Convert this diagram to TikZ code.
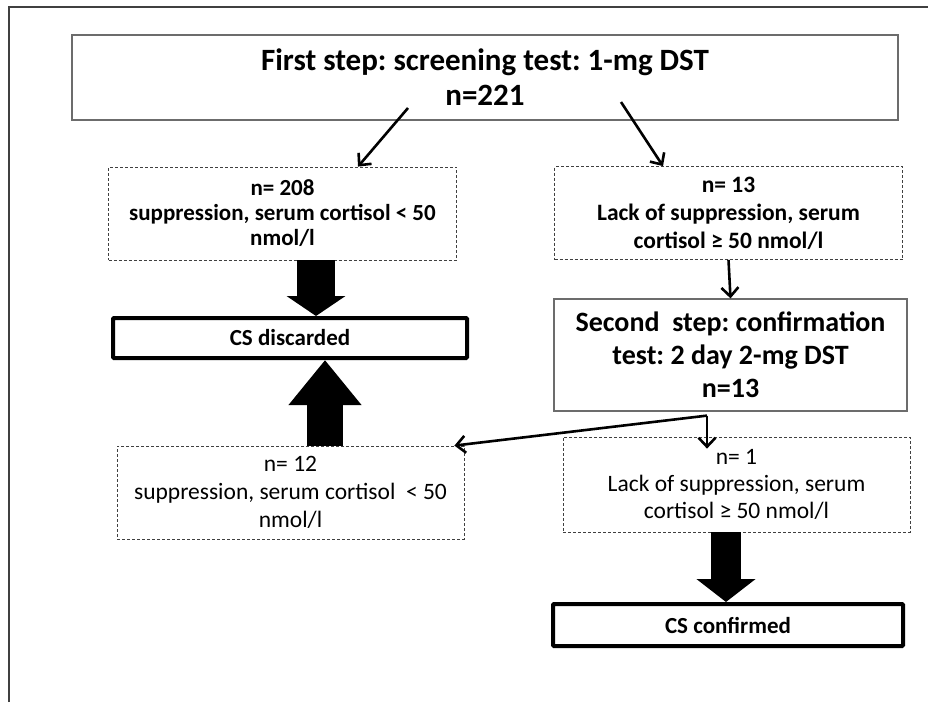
\documentclass[tikz,border=0pt]{standalone}
\usepackage{fontspec}
\setmainfont{Carlito}
\usetikzlibrary{arrows.meta,calc}
\frenchspacing

\begin{document}
\begin{tikzpicture}[x=1pt,y=-1pt,
  stepbox/.style={draw=gray!85!black,line width=1.2pt,align=center,inner sep=0pt},
  resbox/.style={draw=black!75,dash pattern=on 3pt off 2pt,line width=0.8pt,align=center,inner sep=0pt,minimum width=348pt,minimum height=93pt},
  endbox/.style={draw=black,line width=4pt,rounded corners=1pt,align=center,inner sep=0pt,minimum width=350pt,minimum height=40pt,font=\bfseries\fontsize{23}{26}\selectfont},
  linkarrow/.style={line width=2.6pt,-{Straight Barb[length=9pt,width=17pt]}},
  fatarrow/.style={draw=black}]
\useasboundingbox (0,0) rectangle (928,702);
\draw[black!75,line width=2pt] (9,702) -- (9,7) -- (928,7);

% first step
\node (first) [stepbox,minimum width=826pt,minimum height=85pt,font=\bfseries\fontsize{31}{35}\selectfont] at (485,77.5) {First step: screening test: 1-mg DST\\n=221};
\node (n208) [resbox,font=\bfseries\fontsize{23}{25}\selectfont] at (282.5,213.5) {n= 208\\suppression, serum cortisol < 50\\nmol/l};
\node (n13) [resbox,font=\bfseries\fontsize{23.5}{28}\selectfont] at (728.5,213) {n= 13\\Lack of suppression, serum\\cortisol ≥ 50 nmol/l};
\coordinate (t1) at (408,108);
\coordinate (t2) at (621,102);
\draw[linkarrow] (t1)--([xshift=75.5pt]n208.north);
\draw[linkarrow] (t2)--([xshift=-65.5pt]n13.north);

% discarded / second step
\node (discard) [endbox,minimum width=354pt] at (290,338) {CS discarded};
\node (second) [stepbox,minimum width=353pt,minimum height=112pt,font=\bfseries\fontsize{28}{33}\selectfont] at (730.5,355) {Second\ \ step: confirmation\\test: 2 day 2-mg DST\\n=13};
\coordinate (colA) at (316,0);
\draw[fatarrow,line width=38pt,-{Triangle[length=20pt,width=58pt]}] (colA |- n208.south)--(colA |- discard.north);
\draw[linkarrow] (n13.south)--(second.north);

% second step results
\node (n12) [resbox,minimum width=347pt,font=\fontsize{23.5}{28}\selectfont] at (290.5,492.5) {n= 12\\suppression, serum cortisol\ \ < 50\\nmol/l};
\node (n1) [resbox,minimum width=347pt,minimum height=95pt,font=\fontsize{23.5}{27}\selectfont] at (736.5,484.5) {n= 1\\Lack of suppression, serum\\cortisol ≥ 50 nmol/l};
\coordinate (split) at ([xshift=-23.5pt,yshift=-4pt]second.south);
\draw[linkarrow] (split)--([xshift=-10pt]n12.north east);
\draw[linkarrow] (split)--($(split |- n1.north)+(0,12)$);
\coordinate (colB) at (325,0);
\draw[fatarrow,line width=36pt,-{Triangle[length=45pt,width=70pt]}] (colB |- n12.north)--(colB |- discard.south);

\node (confirm) [endbox,minimum height=42pt] at (728,625) {CS confirmed};
\coordinate (colC) at (726,0);
\draw[fatarrow,line width=30pt,-{Triangle[length=23pt,width=58pt]}] (colC |- n1.south)--(colC |- confirm.north);
\end{tikzpicture}
\end{document}
